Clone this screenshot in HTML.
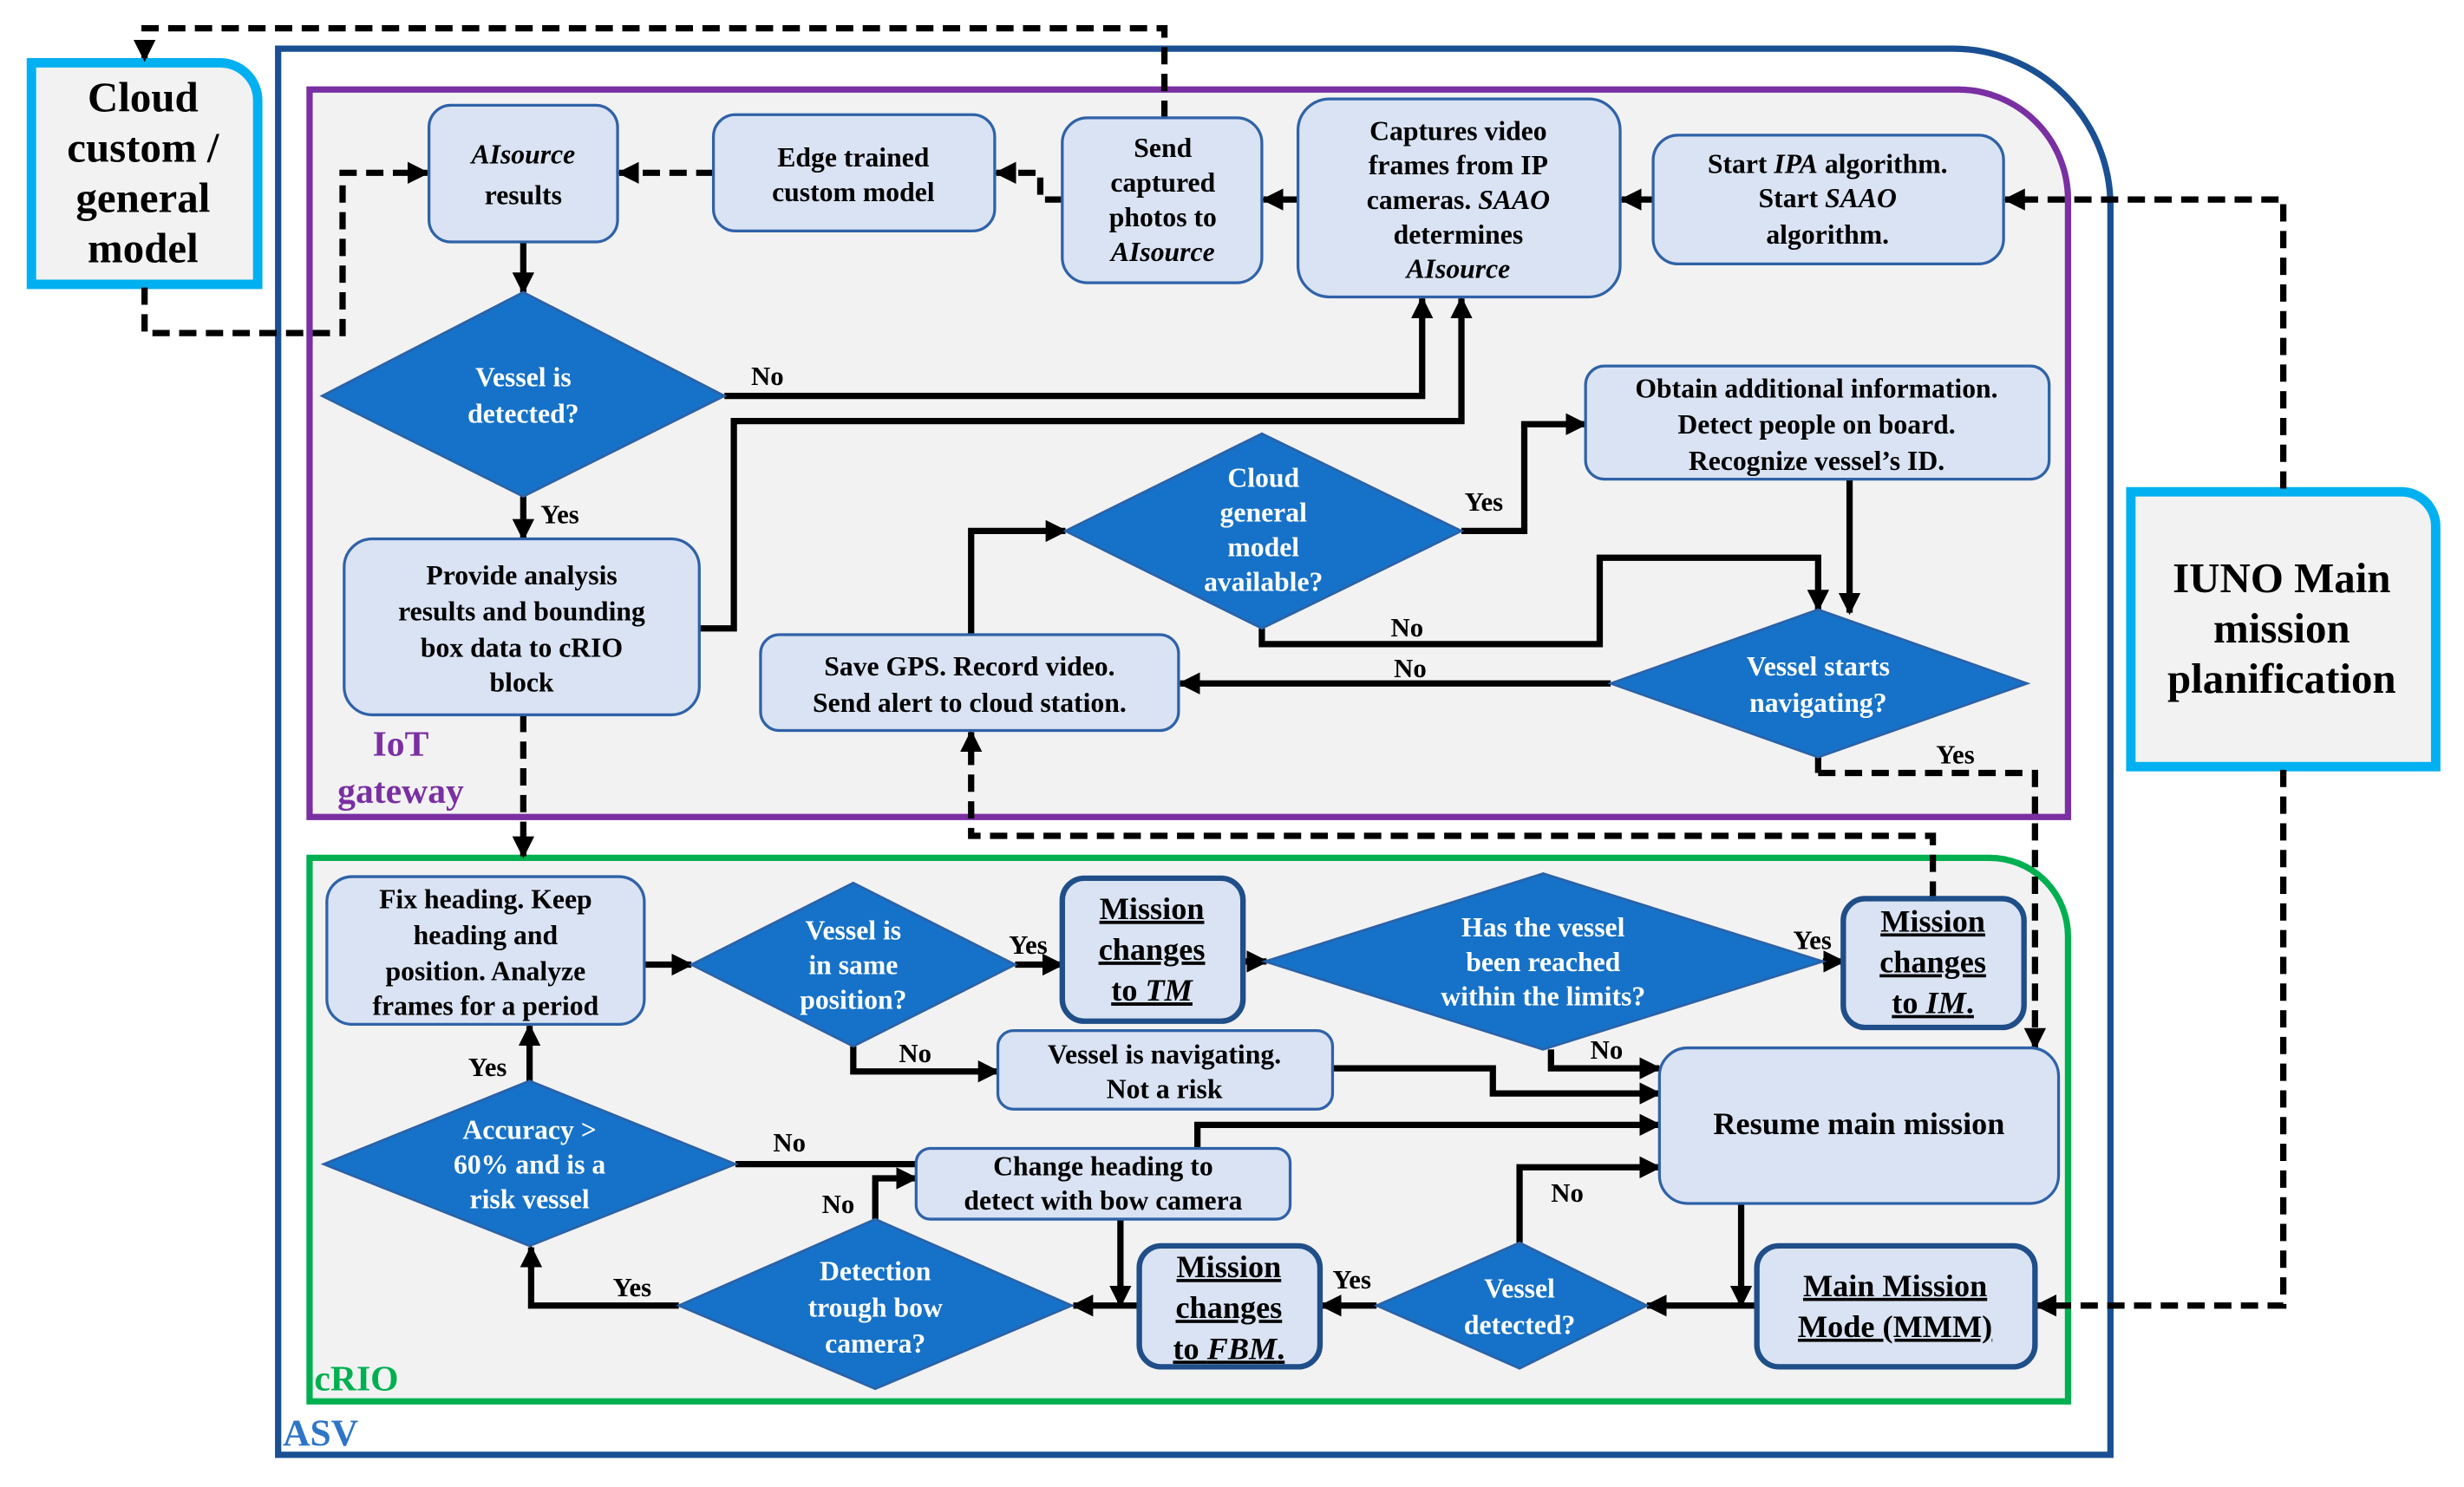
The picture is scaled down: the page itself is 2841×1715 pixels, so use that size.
<!DOCTYPE html>
<html><head><meta charset="utf-8"><style>
html,body{margin:0;padding:0;background:#fff;}
svg{display:block;}
text{font-family:"Liberation Serif",serif;}
.b{fill:#000;font-weight:bold;font-size:17.5px;text-anchor:middle;}
.w{fill:#fff;font-weight:bold;font-size:17.5px;text-anchor:middle;}
.l{fill:#000;font-weight:bold;font-size:17px;}
.box{fill:#dae3f3;stroke:#2f62a8;stroke-width:1.8;}
.tb{fill:#dae3f3;stroke:#1f4e89;stroke-width:3.5;}
.dia{fill:#1672c8;stroke:#2a62a8;stroke-width:1.5;}
.c{fill:none;stroke:#000;stroke-width:4;}
.d{fill:none;stroke:#000;stroke-width:4;stroke-dasharray:11,6;}
</style></head><body>
<svg width="2841" height="1715" viewBox="0 0 1568 946.5" preserveAspectRatio="none" xmlns="http://www.w3.org/2000/svg">
<defs>
<marker id="a" viewBox="0 0 10 10" refX="9" refY="5" markerWidth="14" markerHeight="14" markerUnits="userSpaceOnUse" orient="auto"><path d="M0,0 L10,5 L0,10 z" fill="#000"/></marker>
</defs>
<!-- ASV -->
<path d="M177,31 H1243 A100,100 0 0 1 1343,131 V926 H177 Z" fill="#fff" stroke="#1a5093" stroke-width="4"/>
<text x="180" y="920" style="fill:#2e75c8;font-weight:bold;font-size:24px;">ASV</text>
<!-- IoT -->
<path d="M197,57 H1246 A70,70 0 0 1 1316,127 V520 H197 Z" fill="#f2f2f2" stroke="#7a2fa2" stroke-width="4"/>
<text x="255" y="481" style="fill:#7a2fa2;font-weight:bold;font-size:23px;text-anchor:middle;">IoT</text>
<text x="255" y="511" style="fill:#7a2fa2;font-weight:bold;font-size:23px;text-anchor:middle;">gateway</text>
<!-- cRIO -->
<path d="M197,546 H1266 A50,50 0 0 1 1316,596 V892 H197 Z" fill="#f2f2f2" stroke="#00b050" stroke-width="4"/>
<text x="200" y="885" style="fill:#00b050;font-weight:bold;font-size:23px;">cRIO</text>
<!-- Cloud box -->
<path d="M20,40 H140 A24,24 0 0 1 164,64 V181 H20 Z" fill="#f2f2f2" stroke="#00b0f0" stroke-width="6"/>
<g style="font-weight:bold;font-size:27px;text-anchor:middle;fill:#000;">
<text x="91" y="71">Cloud</text><text x="91" y="103">custom /</text><text x="91" y="135">general</text><text x="91" y="167">model</text></g>
<!-- IUNO box -->
<path d="M1356,313 H1528 A22,22 0 0 1 1550,335 V488 H1356 Z" fill="#f2f2f2" stroke="#00b0f0" stroke-width="6"/>
<g style="font-weight:bold;font-size:27px;text-anchor:middle;fill:#000;">
<text x="1452" y="377">IUNO Main</text><text x="1452" y="409">mission</text><text x="1452" y="441">planification</text></g>

<!-- connectors -->
<path class="d" d="M741,75 V18 H92 V38" marker-end="url(#a)"/>
<path class="d" d="M92,183 V212 H218 V110 H272" marker-end="url(#a)"/>
<path class="d" d="M454,110 H394" marker-end="url(#a)"/>
<path class="d" d="M676,127 H662 V110 H634" marker-end="url(#a)"/>
<path class="c" d="M826,127 H804" marker-end="url(#a)"/>
<path class="c" d="M1052,127 H1032" marker-end="url(#a)"/>
<path class="d" d="M1453,311 V127 H1276" marker-end="url(#a)"/>
<path class="d" d="M1453,490 V831 H1296" marker-end="url(#a)"/>
<path class="c" d="M333,154 V186" marker-end="url(#a)"/>
<path class="c" d="M333,316 V343" marker-end="url(#a)"/>
<path class="c" d="M461,252 H905 V190" marker-end="url(#a)"/>
<path class="c" d="M445,400 H467 V268 H930 V190" marker-end="url(#a)"/>
<path class="c" d="M618,404 V338 H678" marker-end="url(#a)"/>
<path class="c" d="M930,338 H970 V270 H1009" marker-end="url(#a)"/>
<path class="c" d="M803,400 V410 H1018 V355 H1157 V388" marker-end="url(#a)"/>
<path class="c" d="M1177,305 V390" marker-end="url(#a)"/>
<path class="c" d="M1025,435 H751" marker-end="url(#a)"/>
<path class="c" d="M1157,482 V492"/>
<path class="d" d="M1157,492 H1295 V667" marker-end="url(#a)"/>
<path class="d" d="M333,455 V545" marker-end="url(#a)"/>
<path class="d" d="M1230,572 V532 H618 V466" marker-end="url(#a)"/>
<path class="c" d="M410,614 H440" marker-end="url(#a)"/>
<path class="c" d="M646,614 H676" marker-end="url(#a)"/>
<path class="c" d="M543,666 V682 H635" marker-end="url(#a)"/>
<path class="c" d="M791,612 H806" marker-end="url(#a)"/>
<path class="c" d="M1160,612 H1173" marker-end="url(#a)"/>
<path class="c" d="M987,668 V680 H1056" marker-end="url(#a)"/>
<path class="c" d="M848,680 H950 V696 H1056" marker-end="url(#a)"/>
<path class="c" d="M762,731 V716 H1056" marker-end="url(#a)"/>
<path class="c" d="M967,791 V743 H1056" marker-end="url(#a)"/>
<path class="c" d="M1108,766 V831" marker-end="url(#a)"/>
<path class="c" d="M1118,831 H1048" marker-end="url(#a)"/>
<path class="c" d="M876,831 H841" marker-end="url(#a)"/>
<path class="c" d="M725,831 H683" marker-end="url(#a)"/>
<path class="c" d="M713,776 V831" marker-end="url(#a)"/>
<path class="c" d="M557,776 V750 H583" marker-end="url(#a)"/>
<path class="c" d="M432,831 H338 V794" marker-end="url(#a)"/>
<path class="c" d="M468,741 H583"/>
<path class="c" d="M337,688 V653" marker-end="url(#a)"/>

<!-- connector labels -->
<text class="l" x="478" y="245">No</text>
<text class="l" x="344" y="333">Yes</text>
<text class="l" x="932" y="325">Yes</text>
<text class="l" x="885" y="405">No</text>
<text class="l" x="887" y="431">No</text>
<text class="l" x="1232" y="486">Yes</text>
<text class="l" x="642" y="607">Yes</text>
<text class="l" x="572" y="676">No</text>
<text class="l" x="1141" y="604">Yes</text>
<text class="l" x="1012" y="674">No</text>
<text class="l" x="987" y="765">No</text>
<text class="l" x="848" y="820">Yes</text>
<text class="l" x="523" y="772">No</text>
<text class="l" x="390" y="825">Yes</text>
<text class="l" x="492" y="733">No</text>
<text class="l" x="298" y="685">Yes</text>

<!-- boxes -->
<rect class="box" x="273" y="67" width="120" height="87" rx="14"/>
<text class="b" x="333" y="104"><tspan font-style="italic">AIsource</tspan></text>
<text class="b" x="333" y="130">results</text>
<rect class="box" x="454" y="73" width="179" height="74" rx="14"/>
<text class="b" x="543" y="106">Edge trained</text><text class="b" x="543" y="128">custom model</text>
<rect class="box" x="676" y="75" width="127" height="105" rx="16"/>
<text class="b" x="740" y="100">Send</text><text class="b" x="740" y="122">captured</text><text class="b" x="740" y="144">photos to</text><text class="b" x="740" y="166" font-style="italic">AIsource</text>
<rect class="box" x="826" y="63" width="205" height="126" rx="20"/>
<text class="b" x="928" y="89">Captures video</text><text class="b" x="928" y="111">frames from IP</text><text class="b" x="928" y="133">cameras. <tspan font-style="italic">SAAO</tspan></text><text class="b" x="928" y="155">determines</text><text class="b" x="928" y="177" font-style="italic">AIsource</text>
<rect class="box" x="1052" y="86" width="223" height="82" rx="16"/>
<text class="b" x="1163" y="110">Start <tspan font-style="italic">IPA</tspan> algorithm.</text><text class="b" x="1163" y="132">Start <tspan font-style="italic">SAAO</tspan></text><text class="b" x="1163" y="155">algorithm.</text>
<rect class="box" x="1009" y="233" width="295" height="72" rx="12"/>
<text class="b" x="1156" y="253">Obtain additional information.</text><text class="b" x="1156" y="276">Detect people on board.</text><text class="b" x="1156" y="299">Recognize vessel’s ID.</text>
<rect class="box" x="219" y="343" width="226" height="112" rx="18"/>
<text class="b" x="332" y="372">Provide analysis</text><text class="b" x="332" y="395">results and bounding</text><text class="b" x="332" y="418">box data to cRIO</text><text class="b" x="332" y="440">block</text>
<rect class="box" x="484" y="404" width="266" height="61" rx="12"/>
<text class="b" x="617" y="430">Save GPS. Record video.</text><text class="b" x="617" y="453">Send alert to cloud station.</text>
<rect class="box" x="208" y="558" width="202" height="94" rx="16"/>
<text class="b" x="309" y="578">Fix heading. Keep</text><text class="b" x="309" y="601">heading and</text><text class="b" x="309" y="624">position. Analyze</text><text class="b" x="309" y="646">frames for a period</text>
<rect class="tb" x="676" y="559" width="115" height="91" rx="14"/>
<g style="text-decoration:underline;"><text class="b" x="733" y="585" style="font-size:20px;text-decoration:underline;">Mission</text><text class="b" x="733" y="611" style="font-size:20px;text-decoration:underline;">changes</text><text class="b" x="733" y="637" style="font-size:20px;text-decoration:underline;">to <tspan font-style="italic">TM</tspan></text></g>
<rect class="tb" x="1173" y="572" width="115" height="82" rx="14"/>
<text class="b" x="1230" y="593" style="font-size:20px;text-decoration:underline;">Mission</text><text class="b" x="1230" y="619" style="font-size:20px;text-decoration:underline;">changes</text><text class="b" x="1230" y="645" style="font-size:20px;text-decoration:underline;">to <tspan font-style="italic">IM</tspan>.</text>
<rect class="box" x="635" y="656" width="213" height="50" rx="10"/>
<text class="b" x="741" y="677">Vessel is navigating.</text><text class="b" x="741" y="699">Not a risk</text>
<rect class="box" x="1056" y="667" width="254" height="99" rx="18"/>
<text class="b" x="1183" y="722" style="font-size:20px;">Resume main mission</text>
<rect class="box" x="583" y="731" width="238" height="45" rx="9"/>
<text class="b" x="702" y="748">Change heading to</text><text class="b" x="702" y="770">detect with bow camera</text>
<rect class="tb" x="725" y="793" width="115" height="77" rx="14"/>
<text class="b" x="782" y="813" style="font-size:20px;text-decoration:underline;">Mission</text><text class="b" x="782" y="839" style="font-size:20px;text-decoration:underline;">changes</text><text class="b" x="782" y="865" style="font-size:20px;text-decoration:underline;">to <tspan font-style="italic">FBM</tspan>.</text>
<rect class="tb" x="1118" y="793" width="177" height="77" rx="14"/>
<text class="b" x="1206" y="825" style="font-size:20px;text-decoration:underline;">Main Mission</text><text class="b" x="1206" y="851" style="font-size:20px;text-decoration:underline;">Mode (MMM)</text>

<!-- diamonds -->
<polygon class="dia" points="333,186 461,252 333,316 205,252"/>
<text class="w" x="333" y="246">Vessel is</text><text class="w" x="333" y="269">detected?</text>
<polygon class="dia" points="803,276 930,338 803,400 678,338"/>
<text class="w" x="804" y="310">Cloud</text><text class="w" x="804" y="332">general</text><text class="w" x="804" y="354">model</text><text class="w" x="804" y="376">available?</text>
<polygon class="dia" points="1157,388 1290,435 1157,482 1025,435"/>
<text class="w" x="1157" y="430">Vessel starts</text><text class="w" x="1157" y="453">navigating?</text>
<polygon class="dia" points="543,562 646,614 543,666 440,614"/>
<text class="w" x="543" y="598">Vessel is</text><text class="w" x="543" y="620">in same</text><text class="w" x="543" y="642">position?</text>
<polygon class="dia" points="982,556 1160,612 982,668 805,612"/>
<text class="w" x="982" y="596">Has the vessel</text><text class="w" x="982" y="618">been reached</text><text class="w" x="982" y="640">within the limits?</text>
<polygon class="dia" points="337,688 468,741 337,793 206,741"/>
<text class="w" x="337" y="725">Accuracy &gt;</text><text class="w" x="337" y="747">60% and is a</text><text class="w" x="337" y="769">risk vessel</text>
<polygon class="dia" points="557,776 682,831 557,884 432,831"/>
<text class="w" x="557" y="815">Detection</text><text class="w" x="557" y="838">trough bow</text><text class="w" x="557" y="861">camera?</text>
<polygon class="dia" points="967,791 1048,831 967,871 876,831"/>
<text class="w" x="967" y="826">Vessel</text><text class="w" x="967" y="849">detected?</text>
</svg>
</body></html>
